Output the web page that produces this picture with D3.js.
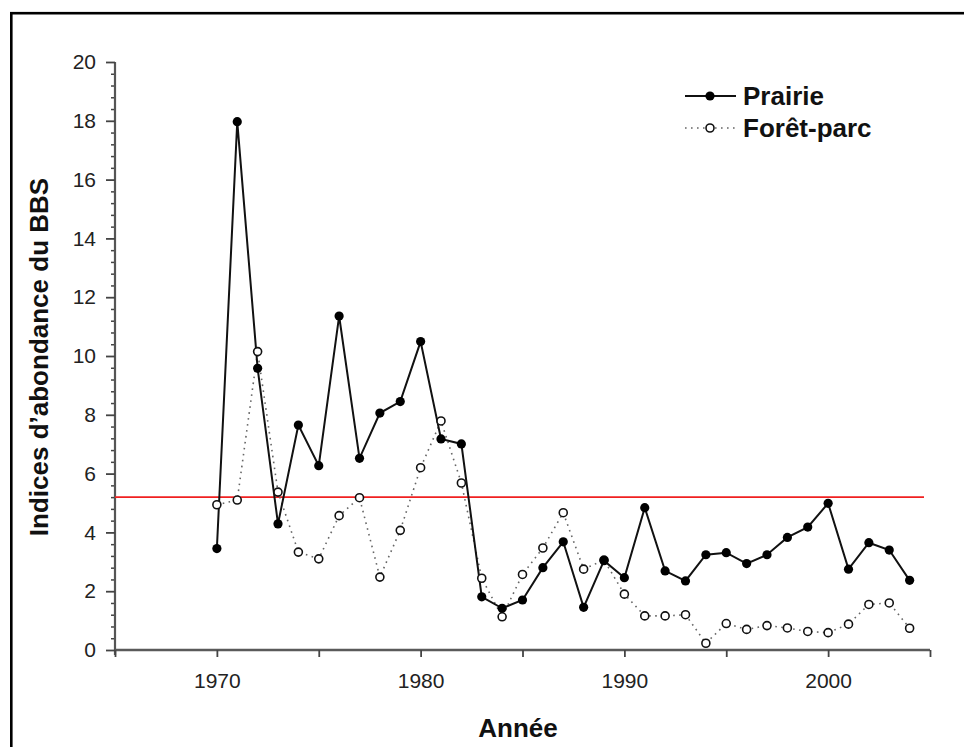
<!DOCTYPE html>
<html>
<head>
<meta charset="utf-8">
<script src="https://cdn.jsdelivr.net/npm/d3@7"></script>
<style>
  html, body { margin: 0; padding: 0; background: #fff; }
  svg { display: block; }
  text { font-family: "Liberation Sans", Arial, sans-serif; }
</style>
</head>
<body>
<svg id="chart" width="964" height="747"></svg>
<script>
// ---- data ----
const years = [1970,1971,1972,1973,1974,1975,1976,1977,1978,1979,1980,1981,1982,1983,1984,1985,1986,1987,1988,1989,1990,1991,1992,1993,1994,1995,1996,1997,1998,1999,2000,2001,2002,2003,2004];
const prairie = [3.45,17.97,9.58,4.29,7.65,6.27,11.36,6.52,8.06,8.45,10.49,7.18,7.01,1.81,1.42,1.70,2.80,3.68,1.45,3.04,2.46,4.84,2.69,2.35,3.24,3.31,2.94,3.24,3.83,4.18,4.99,2.75,3.65,3.40,2.37];
const foretParc = [4.94,5.10,10.15,5.37,3.33,3.10,4.57,5.18,2.48,4.07,6.20,7.79,5.68,2.44,1.13,2.57,3.47,4.67,2.75,3.06,1.90,1.16,1.16,1.20,0.23,0.90,0.70,0.83,0.75,0.63,0.59,0.88,1.55,1.60,0.74];
const seriesNames = ["Prairie", "Forêt-parc"];
const referenceLevel = 5.2;
const xTicks = [1965,1970,1975,1980,1985,1990,1995,2000,2005];
const xTickLabels = ["", "1970", "", "1980", "", "1990", "", "2000", ""];
const yTicks = [0,2,4,6,8,10,12,14,16,18,20];
const xTitle = "Année";
const yTitle = "Indices d\u2019abondance du BBS";

// ---- layout ----
const svg = d3.select("#chart");
const x = d3.scaleLinear().domain([1965, 2005]).range([115, 930]);
const y = d3.scaleLinear().domain([0, 20]).range([650, 62]);

// frame
svg.append("rect")
  .attr("x", 11.3).attr("y", 13.2)
  .attr("width", 1100).attr("height", 1000)
  .attr("fill", "none").attr("stroke", "#000").attr("stroke-width", 2.6);

// minor y ticks
const minorVals = d3.range(0, 20.001, 0.4).filter(v => Math.abs(v/2 - Math.round(v/2)) > 0.01);
const yMinor = svg.append("g").attr("transform", `translate(${x(1965)},0)`)
  .call(d3.axisLeft(y).tickValues(minorVals).tickSize(4).tickFormat(""));
yMinor.select(".domain").remove();
yMinor.selectAll("line").attr("stroke", "#444").attr("stroke-width", 1.5);

// major y axis
const yAxis = svg.append("g").attr("transform", `translate(${x(1965)},0)`)
  .call(d3.axisLeft(y).tickValues(yTicks).tickSize(9).tickPadding(10).tickFormat(d3.format("d")));
yAxis.select(".domain").attr("stroke", "#555").attr("stroke-width", 2.2)
  .attr("d", `M0,${y(20)}H0V${y(0)+5}`);
yAxis.selectAll(".tick line").attr("stroke", "#444").attr("stroke-width", 1.8);
yAxis.selectAll("text").attr("font-size", 21).attr("fill", "#222")
  .attr("font-family", "Liberation Sans, Arial, sans-serif");

// x axis
const xAxis = svg.append("g").attr("transform", `translate(0,${y(0)})`)
  .call(d3.axisBottom(x).tickValues(xTicks).tickSize(7).tickPadding(16)
    .tickFormat((d, i) => xTickLabels[i]));
xAxis.select(".domain").attr("stroke", "#5a5a5a").attr("stroke-width", 2.6)
  .attr("d", `M${x(1965)},0H${x(2005)}`);
xAxis.selectAll(".tick line").attr("stroke", "#444").attr("stroke-width", 1.8);
xAxis.selectAll("text").attr("font-size", 21).attr("fill", "#222")
  .attr("font-family", "Liberation Sans, Arial, sans-serif");

// axis titles
svg.append("text")
  .attr("transform", `translate(48,357) rotate(-90)`)
  .attr("text-anchor", "middle")
  .attr("font-size", 26).attr("font-weight", "bold").attr("fill", "#111")
  .text(yTitle);
svg.append("text")
  .attr("x", 518).attr("y", 737)
  .attr("text-anchor", "middle")
  .attr("font-size", 26).attr("font-weight", "bold").attr("fill", "#111")
  .text(xTitle);

// reference line
svg.append("line")
  .attr("x1", x(1965)).attr("x2", 924)
  .attr("y1", y(referenceLevel)).attr("y2", y(referenceLevel))
  .attr("stroke", "#f02020").attr("stroke-width", 1.6);

const line = d3.line().x((d, i) => x(years[i])).y(d => y(d));

// Forêt-parc dotted line
svg.append("path").datum(foretParc)
  .attr("d", line).attr("fill", "none")
  .attr("stroke", "#666").attr("stroke-width", 1.6)
  .attr("stroke-dasharray", "1.6,4.4");

// Prairie solid line
svg.append("path").datum(prairie)
  .attr("d", line).attr("fill", "none")
  .attr("stroke", "#111").attr("stroke-width", 2);

// markers
svg.append("g").selectAll("circle").data(foretParc).join("circle")
  .attr("cx", (d, i) => x(years[i])).attr("cy", d => y(d))
  .attr("r", 4).attr("fill", "#fff").attr("stroke", "#111").attr("stroke-width", 1.6);
svg.append("g").selectAll("circle").data(prairie).join("circle")
  .attr("cx", (d, i) => x(years[i])).attr("cy", d => y(d))
  .attr("r", 4.6).attr("fill", "#000");

// legend
const leg = svg.append("g");
leg.append("line").attr("x1", 685).attr("x2", 736).attr("y1", 96).attr("y2", 96)
  .attr("stroke", "#111").attr("stroke-width", 2);
leg.append("circle").attr("cx", 710).attr("cy", 96).attr("r", 4.6).attr("fill", "#000");
leg.append("text").attr("x", 743).attr("y", 105)
  .attr("font-size", 26).attr("font-weight", "bold").attr("fill", "#111").text(seriesNames[0]);
leg.append("line").attr("x1", 685).attr("x2", 736).attr("y1", 128).attr("y2", 128)
  .attr("stroke", "#666").attr("stroke-width", 1.6).attr("stroke-dasharray", "1.6,4.4");
leg.append("circle").attr("cx", 710).attr("cy", 128).attr("r", 4)
  .attr("fill", "#fff").attr("stroke", "#111").attr("stroke-width", 1.6);
leg.append("text").attr("x", 743).attr("y", 137)
  .attr("font-size", 26).attr("font-weight", "bold").attr("fill", "#111").text(seriesNames[1]);
</script>
</body>
</html>
